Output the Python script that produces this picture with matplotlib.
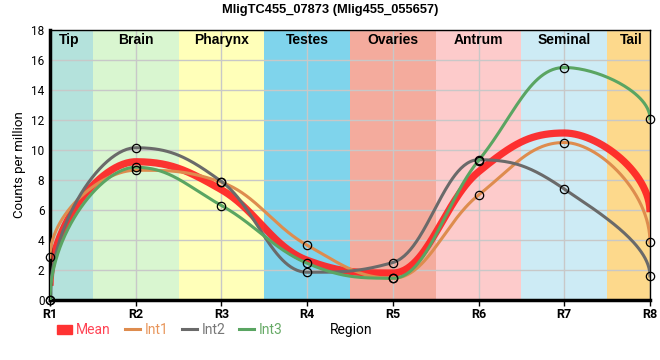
import numpy as np
import matplotlib
matplotlib.use('Agg')
import matplotlib.pyplot as plt
from matplotlib.patches import Rectangle
from matplotlib.lines import Line2D

# data
regions = ['R1', 'R2', 'R3', 'R4', 'R5', 'R6', 'R7', 'R8']
tissues = ['Tip', 'Brain', 'Pharynx', 'Testes', 'Ovaries', 'Antrum', 'Seminal', 'Tail']
int1 = [2.85, 8.65, 7.85, 3.65, 1.45, 7.0, 10.5, 3.85]
int2 = [0.0, 10.15, 7.9, 1.85, 2.5, 9.35, 7.4, 1.6]
int3 = [0.0, 8.85, 6.3, 2.45, 1.45, 9.3, 15.5, 12.1]
mean = list(np.mean([int1, int2, int3], axis=0))

band_colors = ['#b4e2dc', '#d9f6d0', '#ffffb9', '#7fd4ec',
               '#f4ab9d', '#fdcbcb', '#cdebf5', '#fdd98c']


def spline(xs, ys, smoothing=1.5, n=60):
    # bezier spline, control points at 0.4 of the gap, flat at local extremes
    N = len(xs)
    left = [(xs[i], ys[i]) for i in range(N)]
    right = [(xs[i], ys[i]) for i in range(N)]
    d = smoothing + 1
    for i in range(1, N - 1):
        px, py = xs[i], ys[i]
        lx, ly = xs[i - 1], ys[i - 1]
        nx, ny = xs[i + 1], ys[i + 1]
        lcx = (smoothing * px + lx) / d
        lcy = (smoothing * py + ly) / d
        rcx = (smoothing * px + nx) / d
        rcy = (smoothing * py + ny) / d
        corr = (rcy - lcy) * (rcx - px) / (rcx - lcx) + py - rcy
        lcy += corr
        rcy += corr
        if lcy > ly and lcy > py:
            lcy = max(ly, py)
            rcy = 2 * py - lcy
        elif lcy < ly and lcy < py:
            lcy = min(ly, py)
            rcy = 2 * py - lcy
        if rcy > ny and rcy > py:
            rcy = max(ny, py)
            lcy = 2 * py - rcy
        elif rcy < ny and rcy < py:
            rcy = min(ny, py)
            lcy = 2 * py - rcy
        left[i] = (lcx, lcy)
        right[i] = (rcx, rcy)
    # ends: steep start / end like the original
    right[0] = (xs[0], ys[0] + 0.5 * (left[1][1] - ys[0]))
    left[-1] = (xs[-1], ys[-1] + 0.5 * (right[-2][1] - ys[-1]))
    t = np.linspace(0, 1, n)[:, None]
    out = []
    for i in range(1, N):
        p0 = np.array([xs[i - 1], ys[i - 1]])
        p1 = np.array(right[i - 1])
        p2 = np.array(left[i])
        p3 = np.array([xs[i], ys[i]])
        seg = ((1 - t) ** 3) * p0 + 3 * ((1 - t) ** 2) * t * p1 + 3 * (1 - t) * t ** 2 * p2 + t ** 3 * p3
        out.append(seg if i == 1 else seg[1:])
    out = np.vstack(out)
    return out[:, 0], out[:, 1]


fig = plt.figure(figsize=(6.6, 3.6), dpi=100)
ax = fig.add_axes([50 / 660, 60 / 360, 600 / 660, 270 / 360])

x = np.arange(len(regions))
label_x = [0.22] + list(range(1, len(regions) - 1)) + [len(regions) - 1.22]
for i, c in enumerate(band_colors):
    ax.axvspan(i - 0.5, i + 0.5, color=c, lw=0, zorder=0.2)
    ax.text(label_x[i], 17.35, tissues[i], ha='center', va='center', fontsize=10,
            fontweight='bold', family='Liberation Sans', zorder=5)

mx, my = spline(x, mean)
ax.plot(mx, my, color='#ff2222', lw=5.2, alpha=0.92, solid_capstyle='butt', zorder=2)
cols = {'Int1': '#de8c4e', 'Int2': '#6a6a6a', 'Int3': '#5aa562'}
for name, vals in [('Int1', int1), ('Int2', int2), ('Int3', int3)]:
    sx, sy = spline(x, vals)
    ax.plot(sx, sy, color=cols[name], lw=2.2, zorder=3)
    ax.plot(x, vals, 'o', ms=6, mfc='none', mec='black', mew=0.9, zorder=4, clip_on=False)

ax.set_xlim(0, len(regions) - 1)
ax.set_ylim(0, 18)
ax.set_yticks(np.arange(0, 19, 2))
ax.set_xticks(x)
ax.set_xticklabels(regions, fontsize=9, fontweight='bold', family='Roboto')
for lab in ax.get_yticklabels():
    lab.set_fontsize(8.5)
    lab.set_family('Roboto')
ax.tick_params(axis='y', length=0, pad=4)
ax.tick_params(axis='x', length=4, width=1, pad=2)
ax.set_axisbelow(True)
ax.grid(True, color='#c8c8c8', lw=1)
ax.spines['left'].set_linewidth(2.5)
ax.spines['bottom'].set_linewidth(2.5)
ax.spines['top'].set_linewidth(1)
ax.spines['right'].set_linewidth(1)

ax.set_ylabel('Counts per million', fontsize=9.5, family='Roboto', labelpad=4)
fig.text(330 / 660, 1 - 10 / 360, 'MligTC455_07873 (Mlig455_055657)', ha='center', va='center',
         fontsize=9.3, fontweight='bold', family='Liberation Sans')
fig.text(351 / 660, 1 - 330 / 360, 'Region', ha='center', va='center', fontsize=10, family='Roboto')

handles = [Rectangle((0, 0), 1, 1, color='#ff3333'),
           Line2D([], [], color=cols['Int1'], lw=2.2),
           Line2D([], [], color=cols['Int2'], lw=2.2),
           Line2D([], [], color=cols['Int3'], lw=2.2)]
leg = fig.legend(handles, ['Mean', 'Int1', 'Int2', 'Int3'], loc='center left',
                 bbox_to_anchor=(47 / 660, 1 - 330 / 360), ncol=4, frameon=False,
                 handlelength=1.1, handleheight=0.6, handletextpad=0.3, columnspacing=1.0,
                 borderpad=0.2, prop={'family': 'Roboto', 'size': 10})
for t, c in zip(leg.get_texts(), ['#ff4455', '#e8955a', '#777777', '#66aa66']):
    t.set_color(c)

plt.savefig('out.png', dpi=100)
